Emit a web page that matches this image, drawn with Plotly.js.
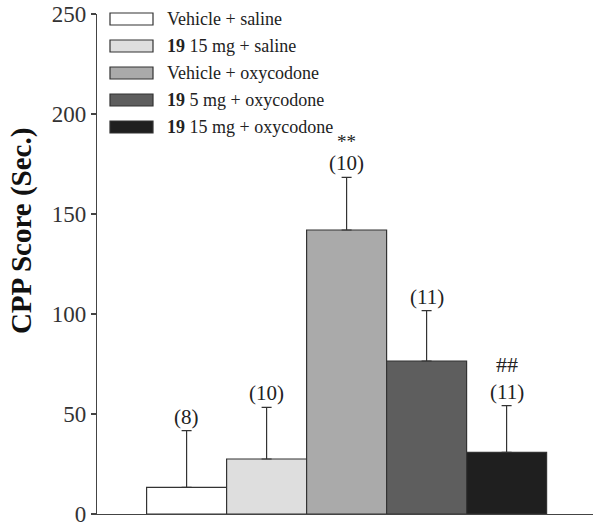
<!DOCTYPE html>
<html lang="en">
<head>
    <meta charset="UTF-8">
    <title>CPP Score</title>
    <script src="https://cdn.plot.ly/plotly-3.0.1.min.js"></script>
    <style>
        body { margin: 0; background: white; }
        #plot { width: 602px; height: 530px; }
    </style>
</head>
<body>
    <div id="plot"></div>
    <script>
        // groups, in the order they are drawn
        const groups = ["Vehicle + saline", "<b>19</b> 15 mg + saline", "Vehicle + oxycodone",
            "<b>19</b> 5 mg + oxycodone", "<b>19</b> 15 mg + oxycodone"];
        const scores = [13.3, 27.5, 142, 76.5, 30.8];
        const sem = [28.4, 25.8, 26.3, 25.2, 23.4];
        const nLabels = ["(8)", "(10)", "(10)", "(11)", "(11)"];
        const sigLabels = ["", "", "**", "", "##"];
        const colors = ["#ffffff", "#dedede", "#aaaaaa", "#5e5e5e", "#1f1f1f"];

        const serif = "Liberation Serif, Times New Roman, serif";
        const xs = groups.map((g, i) => i);

        const traces = [{
            type: "bar",
            x: xs,
            y: scores,
            width: 1,
            marker: { color: colors, line: { color: "#333", width: 1.2 } },
            error_y: {
                type: "data", symmetric: false, array: sem,
                arrayminus: sem.map(() => 0),
                color: "#333", thickness: 1.2, width: 5
            },
            showlegend: false,
            hoverinfo: "none"
        }];

        const annotations = [];
        xs.forEach(i => {
            annotations.push({
                x: i, y: scores[i] + sem[i], xref: "x", yref: "y",
                text: nLabels[i], showarrow: false, yanchor: "bottom", yshift: 0,
                font: { family: serif, size: 21, color: "#222" }
            });
            if (sigLabels[i]) {
                const stars = sigLabels[i] === "**";
                annotations.push({
                    x: i, y: scores[i] + sem[i], xref: "x", yref: "y",
                    text: sigLabels[i], showarrow: false, yanchor: "bottom",
                    yshift: stars ? 23 : 27,
                    font: { family: serif, size: stars ? 19 : 22, color: "#222" }
                });
            }
        });

        // y title sits above the middle of the axis, so it is placed by hand
        annotations.push({
            xref: "paper", yref: "paper", x: -0.152, y: 0.565,
            xanchor: "center", yanchor: "middle", textangle: -90, showarrow: false,
            text: "<b>CPP Score (Sec.)</b>",
            font: { family: serif, size: 29, color: "#111" }
        });

        // legend drawn by hand so the swatches are wide boxes
        const shapes = [];
        const legTop = 1.002, legStep = 0.054;
        groups.forEach((g, i) => {
            const yc = legTop - i * legStep;
            shapes.push({
                type: "rect", xref: "paper", yref: "paper",
                x0: 0.0262, x1: 0.1129, y0: yc - 0.024, y1: yc,
                fillcolor: colors[i], line: { color: "#333", width: 1.2 }
            });
            annotations.push({
                xref: "paper", yref: "paper", x: 0.137, y: yc - 0.012,
                xanchor: "left", yanchor: "middle", showarrow: false,
                text: g, font: { family: serif, size: 18, color: "#222" }
            });
        });

        const layout = {
            width: 602, height: 530,
            margin: { l: 97, r: 9, t: 14, b: 16 },
            paper_bgcolor: "white", plot_bgcolor: "white",
            bargap: 0,
            xaxis: {
                range: [-1.12, 5.08], showticklabels: false, ticks: "",
                showgrid: false, zeroline: false, showline: true,
                linecolor: "#444", linewidth: 1.2, fixedrange: true
            },
            yaxis: {
                range: [0, 250], tickvals: [0, 50, 100, 150, 200, 250],
                ticks: "outside", ticklen: 5, tickcolor: "#444", tickwidth: 1.2,
                showgrid: false, zeroline: false, showline: true,
                linecolor: "#444", linewidth: 1.2,
                tickfont: { family: serif, size: 23, color: "#333" }
            },
            shapes: shapes,
            annotations: annotations
        };

        Plotly.newPlot("plot", traces, layout, { displayModeBar: false, staticPlot: true });
    </script>
</body>
</html>
